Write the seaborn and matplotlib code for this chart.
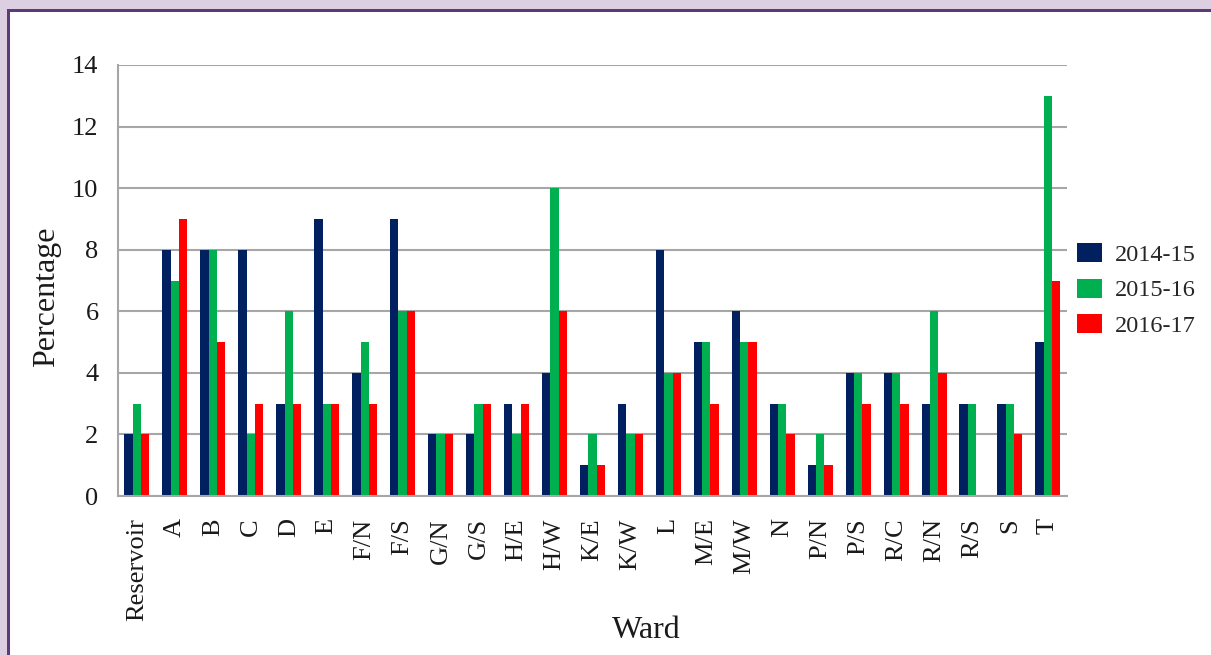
import matplotlib
matplotlib.use("Agg")
import seaborn as sns
import pandas as pd
import matplotlib.pyplot as plt
from matplotlib.patches import Rectangle

wards = ['Reservoir', 'A', 'B', 'C', 'D', 'E', 'F/N', 'F/S', 'G/N', 'G/S', 'H/E', 'H/W', 'K/E',
         'K/W', 'L', 'M/E', 'M/W', 'N', 'P/N', 'P/S', 'R/C', 'R/N', 'R/S', 'S', 'T']
y2014 = [2, 8, 8, 8, 3, 9, 4, 9, 2, 2, 3, 4, 1, 3, 8, 5, 6, 3, 1, 4, 4, 3, 3, 3, 5]
y2015 = [3, 7, 8, 2, 6, 3, 5, 6, 2, 3, 2, 10, 2, 2, 4, 5, 5, 3, 2, 4, 4, 6, 3, 3, 13]
y2016 = [2, 9, 5, 3, 3, 3, 3, 6, 2, 3, 3, 6, 1, 2, 4, 3, 5, 2, 1, 3, 3, 4, 0, 2, 7]
years = ['2014-15', '2015-16', '2016-17']
colors = ['#00205f', '#00b050', '#ff0000']
yticks = [0, 2, 4, 6, 8, 10, 12, 14]

rows = []
for yr, vals in zip(years, [y2014, y2015, y2016]):
    for w, v in zip(wards, vals):
        rows.append({'Ward': w, 'Percentage': v, 'Year': yr})
df = pd.DataFrame(rows)

sns.set_theme(style='white')
plt.rcParams['font.family'] = ['Liberation Serif', 'DejaVu Serif']

fig = plt.figure(figsize=(12.11, 6.55), dpi=100)
ax = fig.add_axes([0.0974, 0.2427, 0.7836, 0.6581])

sns.barplot(data=df, x='Ward', y='Percentage', hue='Year', order=wards, hue_order=years,
            palette=colors, width=0.66, saturation=1, linewidth=0, edgecolor='none',
            ax=ax, legend=True)

ax.set_ylim(0, 14)
ax.set_xlim(-0.5, len(wards) - 0.5)
ax.set_yticks(yticks)
ax.yaxis.grid(True, color='#a6a6a6', linewidth=1.5)
ax.set_axisbelow(True)
for s in ['top', 'right']:
    ax.spines[s].set_visible(False)
for s in ['left', 'bottom']:
    ax.spines[s].set_color('#a6a6a6')
    ax.spines[s].set_linewidth(1.5)
ax.tick_params(axis='y', labelsize=19, colors='#1a1a1a', length=0, pad=14)
ax.tick_params(axis='x', labelsize=19, colors='#1a1a1a', length=0, pad=16, rotation=90)
ax.set_xlabel('Ward', fontsize=23, color='#1a1a1a')
ax.set_ylabel('Percentage', fontsize=23, color='#1a1a1a')
ax.xaxis.set_label_coords(0.557, -0.279)
ax.yaxis.set_label_coords(-0.060, 0.462)

leg = ax.legend(loc='center left', bbox_to_anchor=(1.0105, 0.478), frameon=False,
                fontsize=17.5, handlelength=1.03, handleheight=0.83, handletextpad=0.53,
                labelspacing=0.5, borderpad=0, borderaxespad=0)

# purple frame around the picture
fig.add_artist(Rectangle((0, 0.985), 1, 0.015, transform=fig.transFigure,
                         facecolor='#dccfe1', edgecolor='none'))
fig.add_artist(Rectangle((0, 0), 0.0055, 1, transform=fig.transFigure,
                         facecolor='#dccfe1', edgecolor='none'))
fig.add_artist(Rectangle((0.0055, 0), 0.0028, 0.986, transform=fig.transFigure,
                         facecolor='#5e3b78', edgecolor='none'))
fig.add_artist(Rectangle((0.0055, 0.981), 0.9945, 0.0046, transform=fig.transFigure,
                         facecolor='#5e3b78', edgecolor='none'))

fig.savefig('out.png', dpi=100)
